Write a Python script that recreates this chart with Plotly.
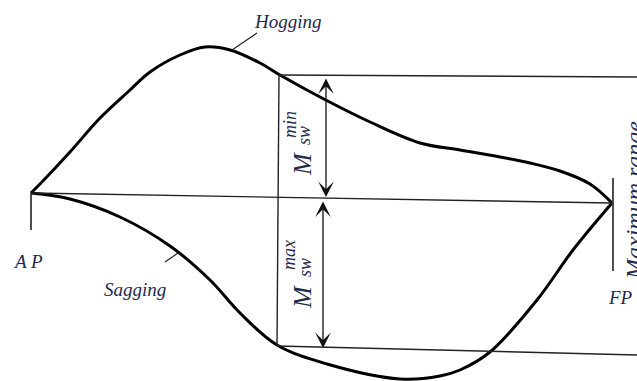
import plotly.graph_objects as go

# stations along the ship (x) and bending moment curves (y, screen units, down = sagging)
hog_x = [31, 40, 70, 100, 130, 150, 180, 205, 230, 260, 280, 320, 370, 420, 460, 500, 530, 560, 590, 612]
hog_y = [193, 184, 152, 118, 90, 72, 55, 47, 50, 63, 75, 97, 122, 143, 150, 157, 163, 171, 184, 203]
sag_x = [31, 70, 120, 170, 210, 240, 277, 327, 400, 440, 460, 490, 537, 573, 612]
sag_y = [193, 199, 217, 246, 280, 313, 345, 364, 379, 376, 370, 352, 300, 250, 203]

# reference levels
ap_fp_x = [31, 612]
zero_y = [193, 203]
min_level_x = [279, 637]
min_level_y = [75, 77]
max_level_x = [277, 637]
max_level_y = [346, 355]

# double arrows (x, top, bottom)
arrow_min = [326, 77, 197]
arrow_max = [323, 200, 348]

INK = "#1f2a4d"
SERIF = "Liberation Serif"

fig = go.Figure()


def seg(xs, ys, w=1.4, color="#222"):
    fig.add_trace(go.Scatter(x=xs, y=ys, mode="lines", line=dict(color=color, width=w),
                             hoverinfo="skip"))


# moment curves
fig.add_trace(go.Scatter(x=hog_x, y=hog_y, mode="lines", line=dict(color="black", width=3, shape="spline"),
                         name="Hogging"))
fig.add_trace(go.Scatter(x=sag_x, y=sag_y, mode="lines", line=dict(color="black", width=3, shape="spline"),
                         name="Sagging"))

# baseline, levels, ticks
seg(ap_fp_x, zero_y)
seg(min_level_x, min_level_y)
seg(max_level_x, max_level_y)
seg([min_level_x[0], max_level_x[0]], [min_level_y[0], max_level_y[0]])
seg([ap_fp_x[0], ap_fp_x[0]], [zero_y[0], 230], w=1.6)
seg([ap_fp_x[1] + 1, ap_fp_x[1] + 1], [178, 271], w=1.6)
# leader lines
seg([232, 257], [50, 33], w=1.2)
seg([165, 178], [262, 253], w=1.2)

for ax_x, y0, y1 in [arrow_min, arrow_max]:
    fig.add_annotation(x=ax_x, y=y1, ax=ax_x, ay=y0, xref="x", yref="y", axref="x", ayref="y",
                       text="", showarrow=True, arrowhead=3, arrowside="end+start",
                       arrowsize=2.0, arrowwidth=1.3, arrowcolor="#111", standoff=0, startstandoff=0)

lbl = dict(family=SERIF, size=19, color=INK, style="italic")
fig.add_annotation(x=288, y=21, text="Hogging", showarrow=False, font=lbl)
fig.add_annotation(x=135, y=289, text="Sagging", showarrow=False, font=lbl)
fig.add_annotation(x=28, y=261, text="A P", showarrow=False, font=lbl)
fig.add_annotation(x=620, y=297, text="FP", showarrow=False, font=lbl)
fig.add_annotation(x=619, y=201, text="Maximum range", showarrow=False, textangle=-90,
                   xanchor="left", font=dict(family=SERIF, size=24, color=INK, style="italic"))

# M_sw^min and M_sw^max, stacked scripts
big = dict(family=SERIF, size=26, color=INK, style="italic")
small = dict(family=SERIF, size=18, color=INK, style="italic")
for (mx, my), (px, py, sup), (bx, by) in [((302, 164), (290, 125, "min"), (304, 136)),
                                          ((302, 297), (289, 255, "max"), (305, 268))]:
    fig.add_annotation(x=mx, y=my, text="M", showarrow=False, textangle=-90, font=big)
    fig.add_annotation(x=px, y=py, text=sup, showarrow=False, textangle=-90, font=small)
    fig.add_annotation(x=bx, y=by, text="sw", showarrow=False, textangle=-90, font=small)

fig.update_layout(
    width=637, height=381,
    margin=dict(l=0, r=0, t=0, b=0),
    paper_bgcolor="white", plot_bgcolor="white",
    showlegend=False,
    xaxis=dict(range=[0, 637], visible=False, fixedrange=True),
    yaxis=dict(range=[381, 0], visible=False, fixedrange=True),
)

fig.write_html("out.html", config={"displayModeBar": False},
               post_script="document.body.style.margin='0';document.body.style.overflow='hidden';")
